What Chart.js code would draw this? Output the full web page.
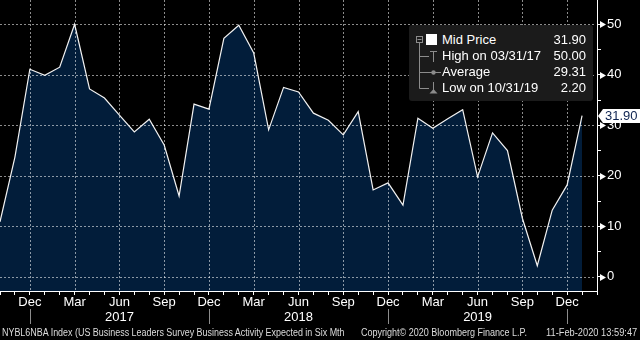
<!DOCTYPE html>
<html><head><meta charset="utf-8">
<script src="https://cdn.jsdelivr.net/npm/chart.js@4"></script>
<style>
html,body{margin:0;padding:0;background:#000;}
#wrap{position:relative;width:640px;height:340px;overflow:hidden;background:#000;font-family:"Liberation Sans",Arial,sans-serif;}
#c{position:absolute;left:0;top:0;}
#legend{position:absolute;left:409px;top:25px;width:184px;height:76px;background:#1b1b1b;border-radius:3px;color:#fff;font-size:13px;}
#legend svg{position:absolute;left:0;top:0;}
.row{position:absolute;left:33px;right:7px;height:16px;line-height:16px;white-space:nowrap;}
.row .v{position:absolute;right:0;top:0;}
#tag{position:absolute;left:603px;width:37px;height:14px;line-height:14px;background:#fff;color:#0d2350;font-size:13px;padding-left:2px;box-sizing:border-box;}
#tag:before{content:"";position:absolute;left:-5px;top:0;border-top:7px solid transparent;border-bottom:7px solid transparent;border-right:5px solid #fff;}
.foot{position:absolute;top:327px;font-size:10px;line-height:12px;color:#dcdcdc;white-space:nowrap;transform-origin:0 0;}
</style></head>
<body>
<div id="wrap">
<canvas id="c" width="640" height="340"></canvas>
<div id="legend">
<svg width="184" height="76">
<rect x="7.5" y="11.5" width="6" height="6" fill="none" stroke="#8c8c8c"/>
<line x1="8.5" y1="14.5" x2="12.5" y2="14.5" stroke="#8c8c8c"/>
<line x1="10.5" y1="17.5" x2="10.5" y2="63.5" stroke="#8c8c8c"/>
<line x1="10.5" y1="31.5" x2="20" y2="31.5" stroke="#8c8c8c"/>
<line x1="10.5" y1="63.5" x2="20" y2="63.5" stroke="#8c8c8c"/>
<rect x="17" y="9" width="11" height="11" fill="#fff"/>
<line x1="24.5" y1="26" x2="24.5" y2="37" stroke="#8c8c8c"/>
<line x1="21" y1="26.5" x2="28" y2="26.5" stroke="#8c8c8c"/>
<line x1="10.5" y1="47.5" x2="32" y2="47.5" stroke="#8c8c8c"/>
<circle cx="24.5" cy="47.5" r="2.2" fill="#8c8c8c"/>
<line x1="24.5" y1="57" x2="24.5" y2="67" stroke="#8c8c8c"/>
<path d="M20.5 68.5 L28.5 68.5 L24.5 64 Z" fill="#8c8c8c"/>
</svg>
<div class="row" style="top:7px">Mid Price<span class="v" id="vMid"></span></div>
<div class="row" style="top:23px">High on 03/31/17<span class="v" id="vHigh"></span></div>
<div class="row" style="top:39px">Average<span class="v" id="vAvg"></span></div>
<div class="row" style="top:55px">Low on 10/31/19<span class="v" id="vLow"></span></div>
</div>
<div id="tag"></div>
<div class="foot" id="f1" data-w="343" style="left:2px">NYBL6NBA Index (US Business Leaders Survey Business Activity Expected in Six Mth</div>
<div class="foot" id="f2" data-w="166" style="left:361px">Copyright© 2020 Bloomberg Finance L.P.</div>
<div class="foot" id="f3" data-w="91" style="left:546px">11-Feb-2020 13:59:47</div>
</div>
<script>
// ---- data ----
const categories = [
 'Oct 2016','Nov 2016','Dec 2016',
 'Jan 2017','Feb 2017','Mar 2017','Apr 2017','May 2017','Jun 2017','Jul 2017','Aug 2017','Sep 2017','Oct 2017','Nov 2017','Dec 2017',
 'Jan 2018','Feb 2018','Mar 2018','Apr 2018','May 2018','Jun 2018','Jul 2018','Aug 2018','Sep 2018','Oct 2018','Nov 2018','Dec 2018',
 'Jan 2019','Feb 2019','Mar 2019','Apr 2019','May 2019','Jun 2019','Jul 2019','Aug 2019','Sep 2019','Oct 2019','Nov 2019','Dec 2019',
 'Jan 2020'
];
const midPrice = [
 10.9, 23.7, 41.1,
 39.9, 41.5, 50.0, 37.2, 35.4, 32.0, 28.7, 31.2, 26.1, 16.0, 34.2, 33.2,
 47.2, 49.8, 44.3, 29.1, 37.5, 36.6, 32.4, 31.0, 28.1, 32.7, 17.2, 18.6,
 14.2, 31.4, 29.4, 31.3, 33.1, 19.8, 28.5, 25.0, 11.6, 2.2, 13.2, 18.2,
 31.9
];
const tickMonths = ['Dec','Mar','Jun','Sep'];
const yearLabelMonth = 'Jun';
const yMajorTicks = [0, 10, 20, 30, 40, 50];
const legendValues = { mid: 31.90, high: 50.00, avg: 29.31, low: 2.20 };

document.getElementById('vMid').textContent = legendValues.mid.toFixed(2);
document.getElementById('vHigh').textContent = legendValues.high.toFixed(2);
document.getElementById('vAvg').textContent = legendValues.avg.toFixed(2);
document.getElementById('vLow').textContent = legendValues.low.toFixed(2);
document.getElementById('tag').textContent = midPrice[midPrice.length-1].toFixed(2);

const FONT = '"Liberation Sans", Arial, sans-serif';
const GRID = 'rgba(255,255,255,0.55)';
const NONE = 'rgba(0,0,0,0)';

function catMonth(i){ const c = categories[i]; return c ? c.split(' ')[0] : null; }
function catYear(i){ const c = categories[i]; return c ? c.split(' ')[1] : null; }
function isQuarter(v){ const m = catMonth(v); return m !== null && tickMonths.includes(m); }

const decor = {
  id: 'decor',
  afterDraw(chart){
    const {ctx, chartArea} = chart;
    const x = chart.scales.x, y = chart.scales.y;
    ctx.save();
    // dotted grid (2 on / 2 off) over the area fill
    ctx.fillStyle = GRID;
    const L = Math.round(chartArea.left), R = Math.round(chartArea.right);
    const T = Math.round(chartArea.top), B = Math.round(chartArea.bottom);
    yMajorTicks.forEach(v => {
      const py = Math.round(y.getPixelForValue(v));
      for (let px = L; px < R - 1; px += 4) ctx.fillRect(px, py, 2, 1);
    });
    categories.forEach((c, i) => {
      if (isQuarter(i)) {
        const px = Math.round(x.getPixelForValue(i));
        for (let py = T; py < B - 1; py += 4) ctx.fillRect(px, py, 1, 2);
      }
    });
    // y-axis arrow markers
    ctx.fillStyle = '#fff';
    yMajorTicks.forEach(v => {
      const py = Math.round(y.getPixelForValue(v)) + 0.5;
      ctx.beginPath();
      ctx.moveTo(chartArea.right + 3, py - 3.5);
      ctx.lineTo(chartArea.right + 3, py + 3.5);
      ctx.lineTo(chartArea.right + 9, py);
      ctx.closePath();
      ctx.fill();
    });
    // year separators
    ctx.strokeStyle = '#8c8c8c';
    ctx.lineWidth = 1;
    categories.forEach((c, i) => {
      if (catMonth(i) === 'Dec') {
        const px = Math.round(x.getPixelForValue(i)) + 0.5;
        ctx.beginPath();
        ctx.moveTo(px, chartArea.bottom + 18);
        ctx.lineTo(px, chartArea.bottom + 33);
        ctx.stroke();
      }
    });
    ctx.restore();
    const tag = document.getElementById('tag');
    tag.style.top = (y.getPixelForValue(midPrice[midPrice.length-1]) - 7) + 'px';
  }
};

new Chart(document.getElementById('c'), {
  type: 'line',
  data: {
    labels: categories,
    datasets: [{
      data: midPrice.map((v, i) => ({x: i, y: v})),
      borderColor: '#f2f2f2',
      borderWidth: 1.2,
      backgroundColor: '#021d3a',
      fill: 'start',
      pointRadius: 0,
      tension: 0
    }]
  },
  options: {
    responsive: false,
    animation: false,
    devicePixelRatio: 1,
    layout: { padding: 0 },
    plugins: { legend: { display: false }, tooltip: { enabled: false } },
    scales: {
      x: {
        type: 'linear', min: 0, max: 40, offset: false,
        afterFit(s){ s.height = 49; s.paddingLeft = 0; s.paddingRight = 0; },
        ticks: {
          stepSize: 1, autoSkip: false, maxRotation: 0, minRotation: 0, includeBounds: false,
          color: '#fff', padding: 0,
          font: { family: FONT, size: 13, lineHeight: 1.15 },
          callback: (v) => {
            if (!isQuarter(v)) return '';
            const m = catMonth(v);
            return m === yearLabelMonth ? [m, catYear(v)] : m;
          }
        },
        grid: {
          z: 1, lineWidth: 1, drawTicks: true, drawOnChartArea: false, tickLength: 4, tickColor: '#fff', color: NONE
        },
        border: { display: true, color: '#fff', width: 1, z: 1 }
      },
      y: {
        position: 'right', min: -2.8, max: 54.8,
        afterFit(s){ s.width = 43; s.paddingTop = 0; s.paddingBottom = 0; },
        ticks: {
          stepSize: 5, includeBounds: false, color: '#fff', padding: 6,
          font: { family: FONT, size: 13 },
          callback: (v) => yMajorTicks.includes(v) ? String(v) : ''
        },
        grid: {
          z: 1, lineWidth: 1, drawOnChartArea: false, tickLength: 4, tickColor: '#fff', color: NONE
        },
        border: { display: true, color: '#fff', width: 1, z: 1 }
      }
    }
  },
  plugins: [decor]
});

document.querySelectorAll('.foot').forEach(el => {
  const w = parseFloat(el.dataset.w);
  const s = w / el.offsetWidth;
  el.style.transform = 'scaleX(' + s + ')';
});
</script>
</body></html>
